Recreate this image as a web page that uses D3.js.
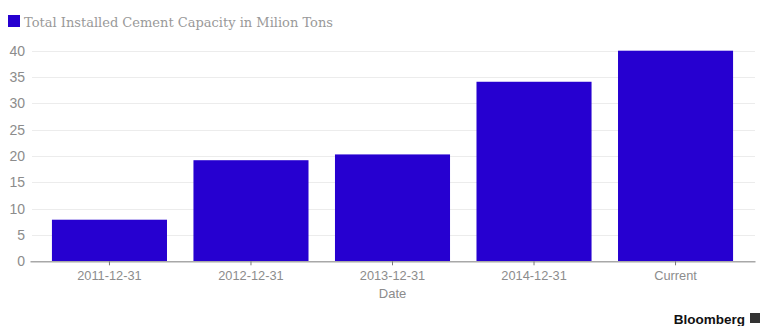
<!DOCTYPE html>
<html>
<head>
<meta charset="utf-8">
<script src="https://cdn.jsdelivr.net/npm/d3@7"></script>
<style>
  body { margin: 0; background: #fff; }
  svg { display: block; }
  .tick text { font-family: "Helvetica Neue", "Liberation Sans", Arial, sans-serif; fill: #8c8c8c; }
</style>
</head>
<body>
<div id="chart"></div>
<script>

var categories = ["2011-12-31", "2012-12-31", "2013-12-31", "2014-12-31", "Current"];
var capacity = [7.9, 19.2, 20.3, 34.1, 40];
var yTicks = [0, 5, 10, 15, 20, 25, 30, 35, 40];
var seriesName = "Total Installed Cement Capacity in Milion Tons";

var width = 764, height = 326;
var margin = {top: 51, right: 9, bottom: 65, left: 30};

var svg = d3.select("#chart").append("svg")
    .attr("width", width).attr("height", height);

var x = d3.scaleBand()
    .domain(categories)
    .range([margin.left, width - margin.right])
    .paddingInner(0.187)
    .paddingOuter(0.155);

var y = d3.scaleLinear()
    .domain([0, 40])
    .range([height - margin.bottom + 0.3, margin.top - 0.3]);

// grid
svg.append("g").selectAll("line")
    .data(yTicks.slice(1))
    .enter().append("line")
    .attr("x1", margin.left + 2).attr("x2", width - margin.right)
    .attr("y1", function(d){ return Math.round(y(d)) + 0.5; })
    .attr("y2", function(d){ return Math.round(y(d)) + 0.5; })
    .style("stroke", "#ececec");

// y labels
var yAxis = svg.append("g")
    .attr("transform", "translate(25,0)")
    .call(d3.axisLeft(y).tickValues(yTicks).tickSize(0).tickPadding(0));
yAxis.select(".domain").remove();
yAxis.selectAll("text").style("font-size", "14px");

// bars
svg.append("g").selectAll("rect")
    .data(capacity)
    .enter().append("rect")
    .attr("x", function(d, i){ return x(categories[i]); })
    .attr("width", x.bandwidth())
    .attr("y", function(d){ return y(d); })
    .attr("height", function(d){ return y(0) - y(d); })
    .style("fill", "#2600d0");

// x axis
var xAxis = svg.append("g")
    .attr("transform", "translate(0," + y(0) + ")")
    .call(d3.axisBottom(x).tickSize(4).tickSizeOuter(0).tickPadding(6));
xAxis.select(".domain").style("stroke", "#a8a8a8").style("stroke-width", 1.5);
xAxis.selectAll(".tick line").style("stroke", "#777");
xAxis.selectAll("text").style("font-size", "12.8px");

svg.append("text")
    .attr("x", (margin.left + width - margin.right) / 2)
    .attr("y", 298)
    .attr("text-anchor", "middle")
    .style("font-family", "\"Helvetica Neue\", \"Liberation Sans\", Arial, sans-serif")
    .style("font-size", "13px")
    .style("fill", "#8c8c8c")
    .text("Date");

// legend
svg.append("rect")
    .attr("x", 8).attr("y", 15).attr("width", 12).attr("height", 12)
    .style("fill", "#2600d0");
svg.append("text")
    .attr("x", 24).attr("y", 27)
    .style("font-family", "\"DejaVu Serif\", serif")
    .style("font-size", "13px")
    .style("fill", "#999")
    .text(seriesName);

// source logo
svg.append("text")
    .attr("x", 745).attr("y", 324)
    .attr("text-anchor", "end")
    .style("font-family", "\"Liberation Sans\", Arial, sans-serif")
    .style("font-weight", "bold")
    .style("font-size", "13.5px")
    .style("fill", "#111")
    .text("Bloomberg");
svg.append("rect")
    .attr("x", 750).attr("y", 313).attr("width", 10).attr("height", 10)
    .style("fill", "#333");

</script>
</body>
</html>
